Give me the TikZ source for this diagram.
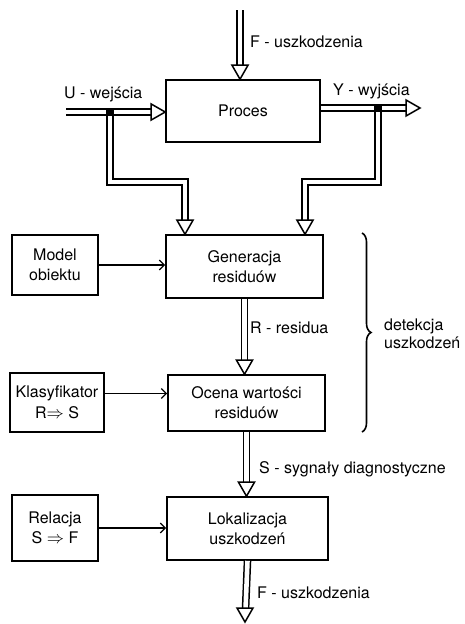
\documentclass[tikz,border=0pt]{standalone}
\usepackage{fontspec}
\setmainfont{TeX Gyre Heros}
\usetikzlibrary{arrows.meta,decorations.pathreplacing}

\begin{document}
\begin{tikzpicture}[x=1pt,y=-1pt,
  font=\fontsize{16}{20}\selectfont,
  box/.style={draw,line width=1.6pt,align=center,inner sep=0pt},
  lbl/.style={anchor=base west,inner sep=0pt},
  dbl/.style={draw,double,double distance=4.6pt,line width=1.5pt,shorten >=9pt},
  thin/.style={draw,line width=1.3pt,-{Straight Barb[length=5pt,width=10pt]}},
  hd/.pic={\path[draw,fill=white,line width=1.5pt] (0,0) -- (-8,-14) -- (8,-14) -- cycle;}]
\useasboundingbox (0,0) rectangle (464,624);

\node[box,minimum width=154pt,minimum height=62pt] (1) at (243,111) {Proces};
\node[box,minimum width=157pt,minimum height=63pt] (2) at (244.5,266.5) {Generacja\\residuów};
\node[box,minimum width=157pt,minimum height=56pt] (3) at (246.5,403) {Ocena wartości\\residuów};
\node[box,minimum width=161pt,minimum height=63pt] (4) at (247.5,528.5) {Lokalizacja\\uszkodzeń};
\node[box,minimum width=86pt,minimum height=60pt] (5) at (55,265) {Model\\obiektu};
\node[box,minimum width=94pt,minimum height=59pt] (6) at (57,402.5) {Klasyfikator\\[1pt]R$\Rightarrow$ S};
\node[box,minimum width=86pt,minimum height=66pt] (7) at (55,528) {Relacja\\S $\Rightarrow$ F};

\coordinate (f0) at (240,10);
\coordinate (u0) at (66,112);
\coordinate (y1) at (420,108);
\coordinate (ub) at (110,112);
\coordinate (yb) at (378,108);
\coordinate (ug) at (185,182);
\coordinate (yg) at (305,182);
\coordinate (f1) at (245,622);
\coordinate (b0) at (362,233);
\coordinate (b1) at (362,432);

% double arrows
\path[dbl] (f0) -- (f0 |- 1.north);
\path[dbl] (u0) -- (u0 -| 1.west);
\path[dbl] (1.east |- y1) -- (y1);
\path[dbl] (ub) |- (ug) -- (ug |- 2.north);
\path[dbl] (yb) |- (yg) -- (yg |- 2.north);
\path[dbl] (2.south) -- (2.south |- 3.north);
\path[dbl] (3.south) -- (3.south |- 4.north);
\path[dbl] (4.south) -- (f1);
\path[fill=black] ([shift={(-4,-3)}]ub) rectangle ([shift={(4,4)}]ub);
\path[fill=black] ([shift={(-4,-3)}]yb) rectangle ([shift={(4,4)}]yb);

\pic at (f0 |- 1.north) {hd};
\pic[rotate=90] at (u0 -| 1.west) {hd};
\pic[rotate=90] at (y1) {hd};
\pic at (ug |- 2.north) {hd};
\pic at (yg |- 2.north) {hd};
\pic at (2.south |- 3.north) {hd};
\pic at (3.south |- 4.north) {hd};
\pic at (f1) {hd};

% thin arrows
\path[thin] (5.east) -- (5.east -| 2.west);
\path[thin] ([yshift=9pt]6.east) -- ([yshift=9pt]6.east -| 3.west);
\path[thin] (7.east) -- (7.east -| 4.west);

\path[draw,line width=1.6pt,decorate,decoration={brace,amplitude=9pt}] (b0) -- (b1);

\node[lbl] (fl) at (250,47) {F - uszkodzenia};
\node[lbl] (ul) at (64,98) {U - wejścia};
\node[lbl] (yl) at (333,95) {Y - wyjścia};
\node[lbl] (rl) at (250,333) {R - residua};
\node[lbl] (sl) at (259,473) {S - sygnały diagnostyczne};
\node[lbl] (fl2) at (257,598) {F - uszkodzenia};
\node[anchor=west,align=left,inner sep=0pt,font=\fontsize{16}{18}\selectfont] (dl) at (384,334) {detekcja\\uszkodzeń};
\end{tikzpicture}
\end{document}
